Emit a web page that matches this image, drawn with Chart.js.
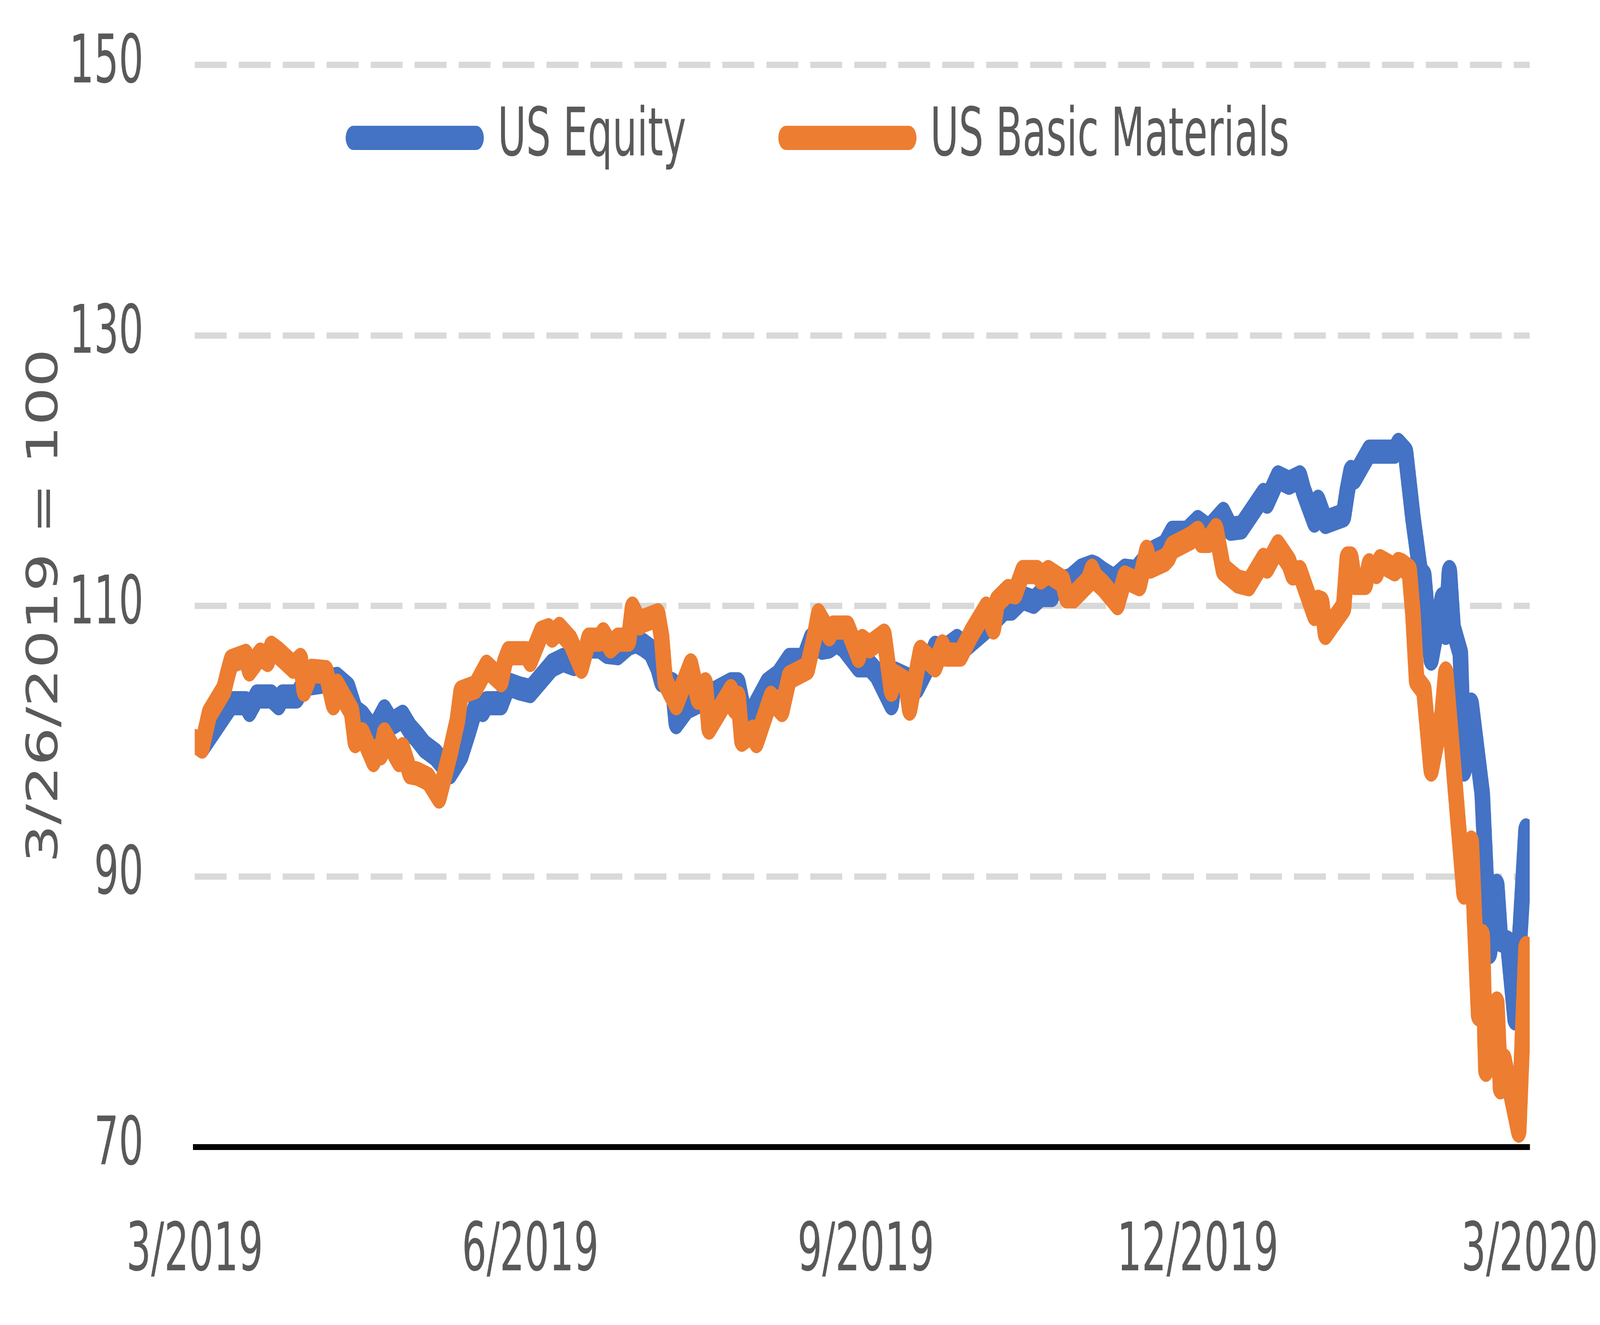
<!DOCTYPE html>
<html>
<head>
<meta charset="utf-8">
<title>US Equity vs US Basic Materials</title>
<script src="https://cdn.jsdelivr.net/npm/chart.js@4.4.1/dist/chart.umd.min.js"></script>
<style>
    html, body { margin: 0; padding: 0; background: #ffffff; overflow: hidden; }
    #wrap { width: 6368px; height: 3392px; position: relative; transform-origin: 0 0; }
</style>
</head>
<body>
<div id="wrap"><canvas id="_dm-indexChart"></canvas></div>
<script>
// Data: day offsets counted from 3/26/2019, index 3/26/2019 = 100
// ----------------------------------------------
const equityDays = [
    0, 2, 8, 10, 14, 15, 17, 21, 23, 24, 28, 30, 35, 39, 42, 44, 46, 49, 52, 54, 57, 59,
    61, 63, 66, 70, 73, 75, 77, 79, 80, 84, 85, 86, 89, 92, 98, 101, 104, 108, 111, 113, 116, 119, 121,
    123, 125, 127, 128, 131, 132, 135, 138, 147, 149, 151, 153, 157, 160, 163, 167, 169, 172, 174, 176, 178, 182,
    185, 187, 191, 192, 196, 198, 201, 203, 205, 209, 211, 217, 222, 224, 227, 230, 232, 235, 236, 240, 243, 246,
    247, 249, 252, 255, 258, 261, 263, 266, 268, 272, 275, 278, 282, 284, 287, 290, 293, 294, 297, 300, 303, 304, 307, 308,
    310, 315, 316, 317, 318, 322, 329, 330, 332, 334, 336, 337, 339, 342, 343, 344, 345, 347,
    348, 350, 353, 355, 357, 358, 360, 362, 365
];
const equityValues = [
    100, 99.6, 102.0, 102.8, 102.8, 102.3, 103.3, 103.3, 102.8, 103.3, 103.3, 104.2, 104.4, 104.6, 103.9, 102.2, 101.8, 100.7, 102.2, 101.3, 101.8, 100.9,
    100.3, 99.6, 99.0, 97.7, 99.0, 100.7, 102.5, 102.3, 102.8, 102.8, 103.5, 104.2, 103.9, 103.7, 105.6, 106.0, 105.7, 107.0, 107.0, 106.6, 106.5, 107.2, 107.4,
    107.1, 106.7, 105.5, 104.5, 104.2, 101.4, 102.5, 102.9, 104.2, 104.2, 101.5, 102.2, 104.2, 104.8, 106.0, 106.0, 107.5, 106.9, 107.0, 107.4, 107.0, 105.6,
    105.6, 105.0, 102.8, 105.0, 104.5, 104.0, 105.6, 106.9, 106.6, 107.4, 107.0, 108.4, 109.8, 109.8, 110.6, 110.3, 110.8, 110.8, 111.6, 111.9, 112.6, 112.9,
    112.8, 112.4, 111.9, 112.6, 112.5, 113.5, 114.0, 114.4, 115.4, 115.4, 116.2, 115.6, 116.8, 115.7, 115.8, 117.0, 118.2, 117.7, 119.5, 119.1, 119.5, 118.5, 116.3, 117.7,
    116.2, 116.7, 118.5, 119.9, 119.5, 121.4, 121.4, 121.9, 121.3, 116.5, 112.5, 112.2, 106.1, 110.5, 108.0, 112.5, 108.4, 106.5,
    97.9, 102.7, 96.1, 84.4, 89.3, 85.3, 85.1, 79.5, 93.4
];

const materialsDays = [
    0, 2, 4, 8, 9, 10, 14, 15, 18, 20, 21, 23, 27, 29, 30, 32, 36, 38, 39, 43, 44, 46, 49, 50, 51, 52, 56, 57, 59,
    61, 64, 67, 70, 72, 73, 77, 80, 84, 85, 86, 91, 92, 95, 97, 98, 100, 103, 106, 108, 111, 112, 114, 116, 119, 120, 122,
    123, 127, 128, 129, 132, 136, 138, 140, 141, 147, 148, 149, 150, 153, 154, 158, 161, 163, 168, 170, 171, 174, 175, 179, 182, 183,
    185, 189, 191, 192, 195, 196, 199, 203, 205, 206, 210, 213, 217, 219, 220, 223, 225, 227, 231, 232, 234, 238, 239, 241, 245, 246,
    247, 249, 253, 255, 259, 261, 262, 266, 267, 268, 273, 275, 276, 278, 280, 282, 286, 289, 293, 294, 297, 300, 301, 303, 307, 308,
    309, 310, 315, 316, 317, 318, 321, 322, 324, 325, 329, 330, 331, 333, 334, 335, 337, 339, 342, 343,
    348, 350, 352, 353, 354, 357, 358, 359, 363, 365
];
const materialsValues = [
    100, 99.6, 102.0, 103.8, 104.9, 105.9, 106.3, 105.3, 106.4, 106.0, 106.9, 106.5, 105.5, 106.0, 103.8, 105.2, 105.1, 102.8, 104.1, 102.2, 100.0, 100.5, 98.6, 99.3, 99.1, 100.5, 98.6, 99.4, 97.7,
    97.6, 97.2, 95.9, 99.1, 101.5, 103.6, 104.0, 105.5, 104.5, 105.8, 106.5, 106.5, 106.0, 108.0, 108.2, 107.8, 108.3, 107.4, 105.5, 107.5, 107.5, 107.9, 107.0, 107.5, 107.5, 109.8, 108.7,
    108.9, 109.3, 107.7, 104.4, 102.8, 105.6, 103.2, 104.2, 101.0, 103.7, 102.5, 103.2, 100.1, 100.7, 100.0, 103.2, 102.3, 104.7, 105.4, 107.8, 109.3, 107.9, 108.4, 108.4, 106.3, 107.4,
    107.0, 107.8, 103.8, 104.8, 104.3, 102.4, 106.6, 105.6, 107.0, 106.4, 106.4, 108.0, 109.8, 108.4, 110.3, 111.1, 111.0, 112.5, 112.5, 112.1, 112.5, 111.8, 110.7, 110.7, 111.8, 112.6,
    112.0, 111.5, 110.2, 112.1, 111.6, 114.0, 112.9, 113.4, 113.7, 114.3, 115.0, 115.4, 114.8, 114.8, 115.6, 112.7, 111.8, 111.6, 113.4, 112.9, 114.4, 113.2, 112.4, 112.5, 109.4, 110.3,
    110.2, 108.0, 109.9, 113.5, 113.5, 111.7, 111.7, 113.0, 112.5, 113.3, 112.7, 113.1, 113.0, 112.6, 109.4, 104.5, 103.8, 97.9, 102.0, 105.0,
    88.8, 92.5, 79.8, 85.6, 75.7, 80.6, 74.4, 76.4, 71.2, 84.7
];

// Axis ticks
const tickDays   = [0, 92, 184, 275, 366];
const tickLabels = ['3/2019', '6/2019', '9/2019', '12/2019', '3/2020'];



// Colors and font (all sizes are for a 6368 x 3392 page)
// ----------------------------------------------
const blueColor   = '#4472C4';
const orangeColor = '#ED7D31';
const textColor   = '#595959';
const gridColor   = '#D9D9D9';
const fontFamily  = "'Liberation Sans Narrow', 'DejaVu Sans Condensed', 'Liberation Sans', sans-serif";
const fontSize    = 172;

// The page is drawn at 6368 x 3392 and squeezed to whatever window we get
const wrap = document.getElementById('wrap');
wrap.style.transform = 'scale(' + (window.innerWidth / 6368) + ',' + (window.innerHeight / 3392) + ')';

// Legend sits inside the plot, a bit left of centre
const LEGEND_PAD      = 398;
const LEGEND_CENTER_X = 3269;
const LEGEND_CENTER_Y = 353;

const legendPlace = {
    id: 'legendPlace',
    beforeInit(chart) {
        // keep the legend out of the layout so it does not push the plot down
        const lg = chart.legend;
        const fit = lg.fit;
        lg.fit = function () { fit.call(this); this.height = 0; };
    },
    afterLayout(chart) {
        const lg = chart.legend;
        const dx = LEGEND_CENTER_X - (lg.left + lg.right) / 2;
        const dy = LEGEND_CENTER_Y - (lg.top + LEGEND_PAD + fontSize / 2);
        lg.left += dx; lg.right += dx;
        lg.top += dy;
        // give the legend a real box again, it clips its drawing to it
        lg.height = LEGEND_PAD * 2 + fontSize * 2;
        lg.bottom = lg.top + lg.height;
    }
};

const toPoints = (days, values) => days.map((d, i) => ({ x: d, y: values[i] }));



document.addEventListener("DOMContentLoaded", () => {

    const indexChart = new Chart(
        document.getElementById('_dm-indexChart'), {
            type: 'line',
            data: {
                datasets: [
                    {
                        label: 'US Equity',
                        data: toPoints(equityDays, equityValues),
                        borderColor: blueColor,
                        backgroundColor: blueColor,
                        borderWidth: 62,
                        order: 1
                    },
                    {
                        label: 'US Basic Materials',
                        data: toPoints(materialsDays, materialsValues),
                        borderColor: orangeColor,
                        backgroundColor: orangeColor,
                        borderWidth: 62,
                        order: 0
                    }
                ]
            },
            plugins: [legendPlace],
            options: {
                responsive: true,
                maintainAspectRatio: false,
                animation: false,
                devicePixelRatio: 1,
                layout: {
                    padding: { left: 0, right: 280, top: 166, bottom: 0 }
                },
                elements: {
                    point: { radius: 0, hoverRadius: 0 },
                    line: {
                        tension: 0,
                        borderCapStyle: 'round',
                        borderJoinStyle: 'round'
                    }
                },
                plugins: {
                    tooltip: { enabled: false },
                    legend: {
                        display: true,
                        position: 'top',
                        align: 'center',
                        labels: {
                            usePointStyle: true,
                            pointStyle: 'line',
                            pointStyleWidth: 488,
                            padding: LEGEND_PAD,
                            color: textColor,
                            font: { family: fontFamily, size: fontSize },
                            sort: (a, b) => a.datasetIndex - b.datasetIndex,
                            // round ends on the legend lines, like the series
                            generateLabels: (chart) => Chart.defaults.plugins.legend.labels
                                .generateLabels(chart)
                                .map(item => Object.assign(item, { lineCap: 'round' }))
                        }
                    }
                },
                scales: {
                    x: {
                        type: 'linear',
                        min: 0,
                        max: 366,
                        afterFit: (s) => { s.height = 456; s.paddingLeft = 0; s.paddingRight = 0; },
                        afterBuildTicks: (s) => { s.ticks = tickDays.map(v => ({ value: v })); },
                        grid: { display: false, drawTicks: false },
                        border: { display: true, color: '#000000', width: 15 },
                        ticks: {
                            autoSkip: false,
                            maxRotation: 0,
                            minRotation: 0,
                            padding: 3207 - 2936 - fontSize * 0.6,
                            color: textColor,
                            font: { family: fontFamily, size: fontSize },
                            callback: (v) => tickLabels[tickDays.indexOf(v)]
                        }
                    },
                    y: {
                        min: 70,
                        max: 150,
                        afterFit: (s) => { s.width = 775; s.paddingTop = 0; s.paddingBottom = 0; },
                        grid: {
                            drawTicks: false,
                            lineWidth: 16,
                            color: (ctx) => (ctx.tick && ctx.tick.value === 70) ? 'rgba(0,0,0,0)' : gridColor
                        },
                        // border.dash gives the dashed grid lines in v4
                        border: { display: false, dash: [127, 48] },
                        ticks: {
                            stepSize: 20,
                            padding: 204,
                            color: textColor,
                            font: { family: fontFamily, size: fontSize }
                        },
                        title: {
                            display: true,
                            text: '3/26/2019 = 100',
                            color: textColor,
                            font: { family: fontFamily, size: fontSize },
                            padding: { top: 183 - fontSize * 0.6, bottom: 0 }
                        }
                    }
                }
            }
        }
    );

});
</script>
</body>
</html>
